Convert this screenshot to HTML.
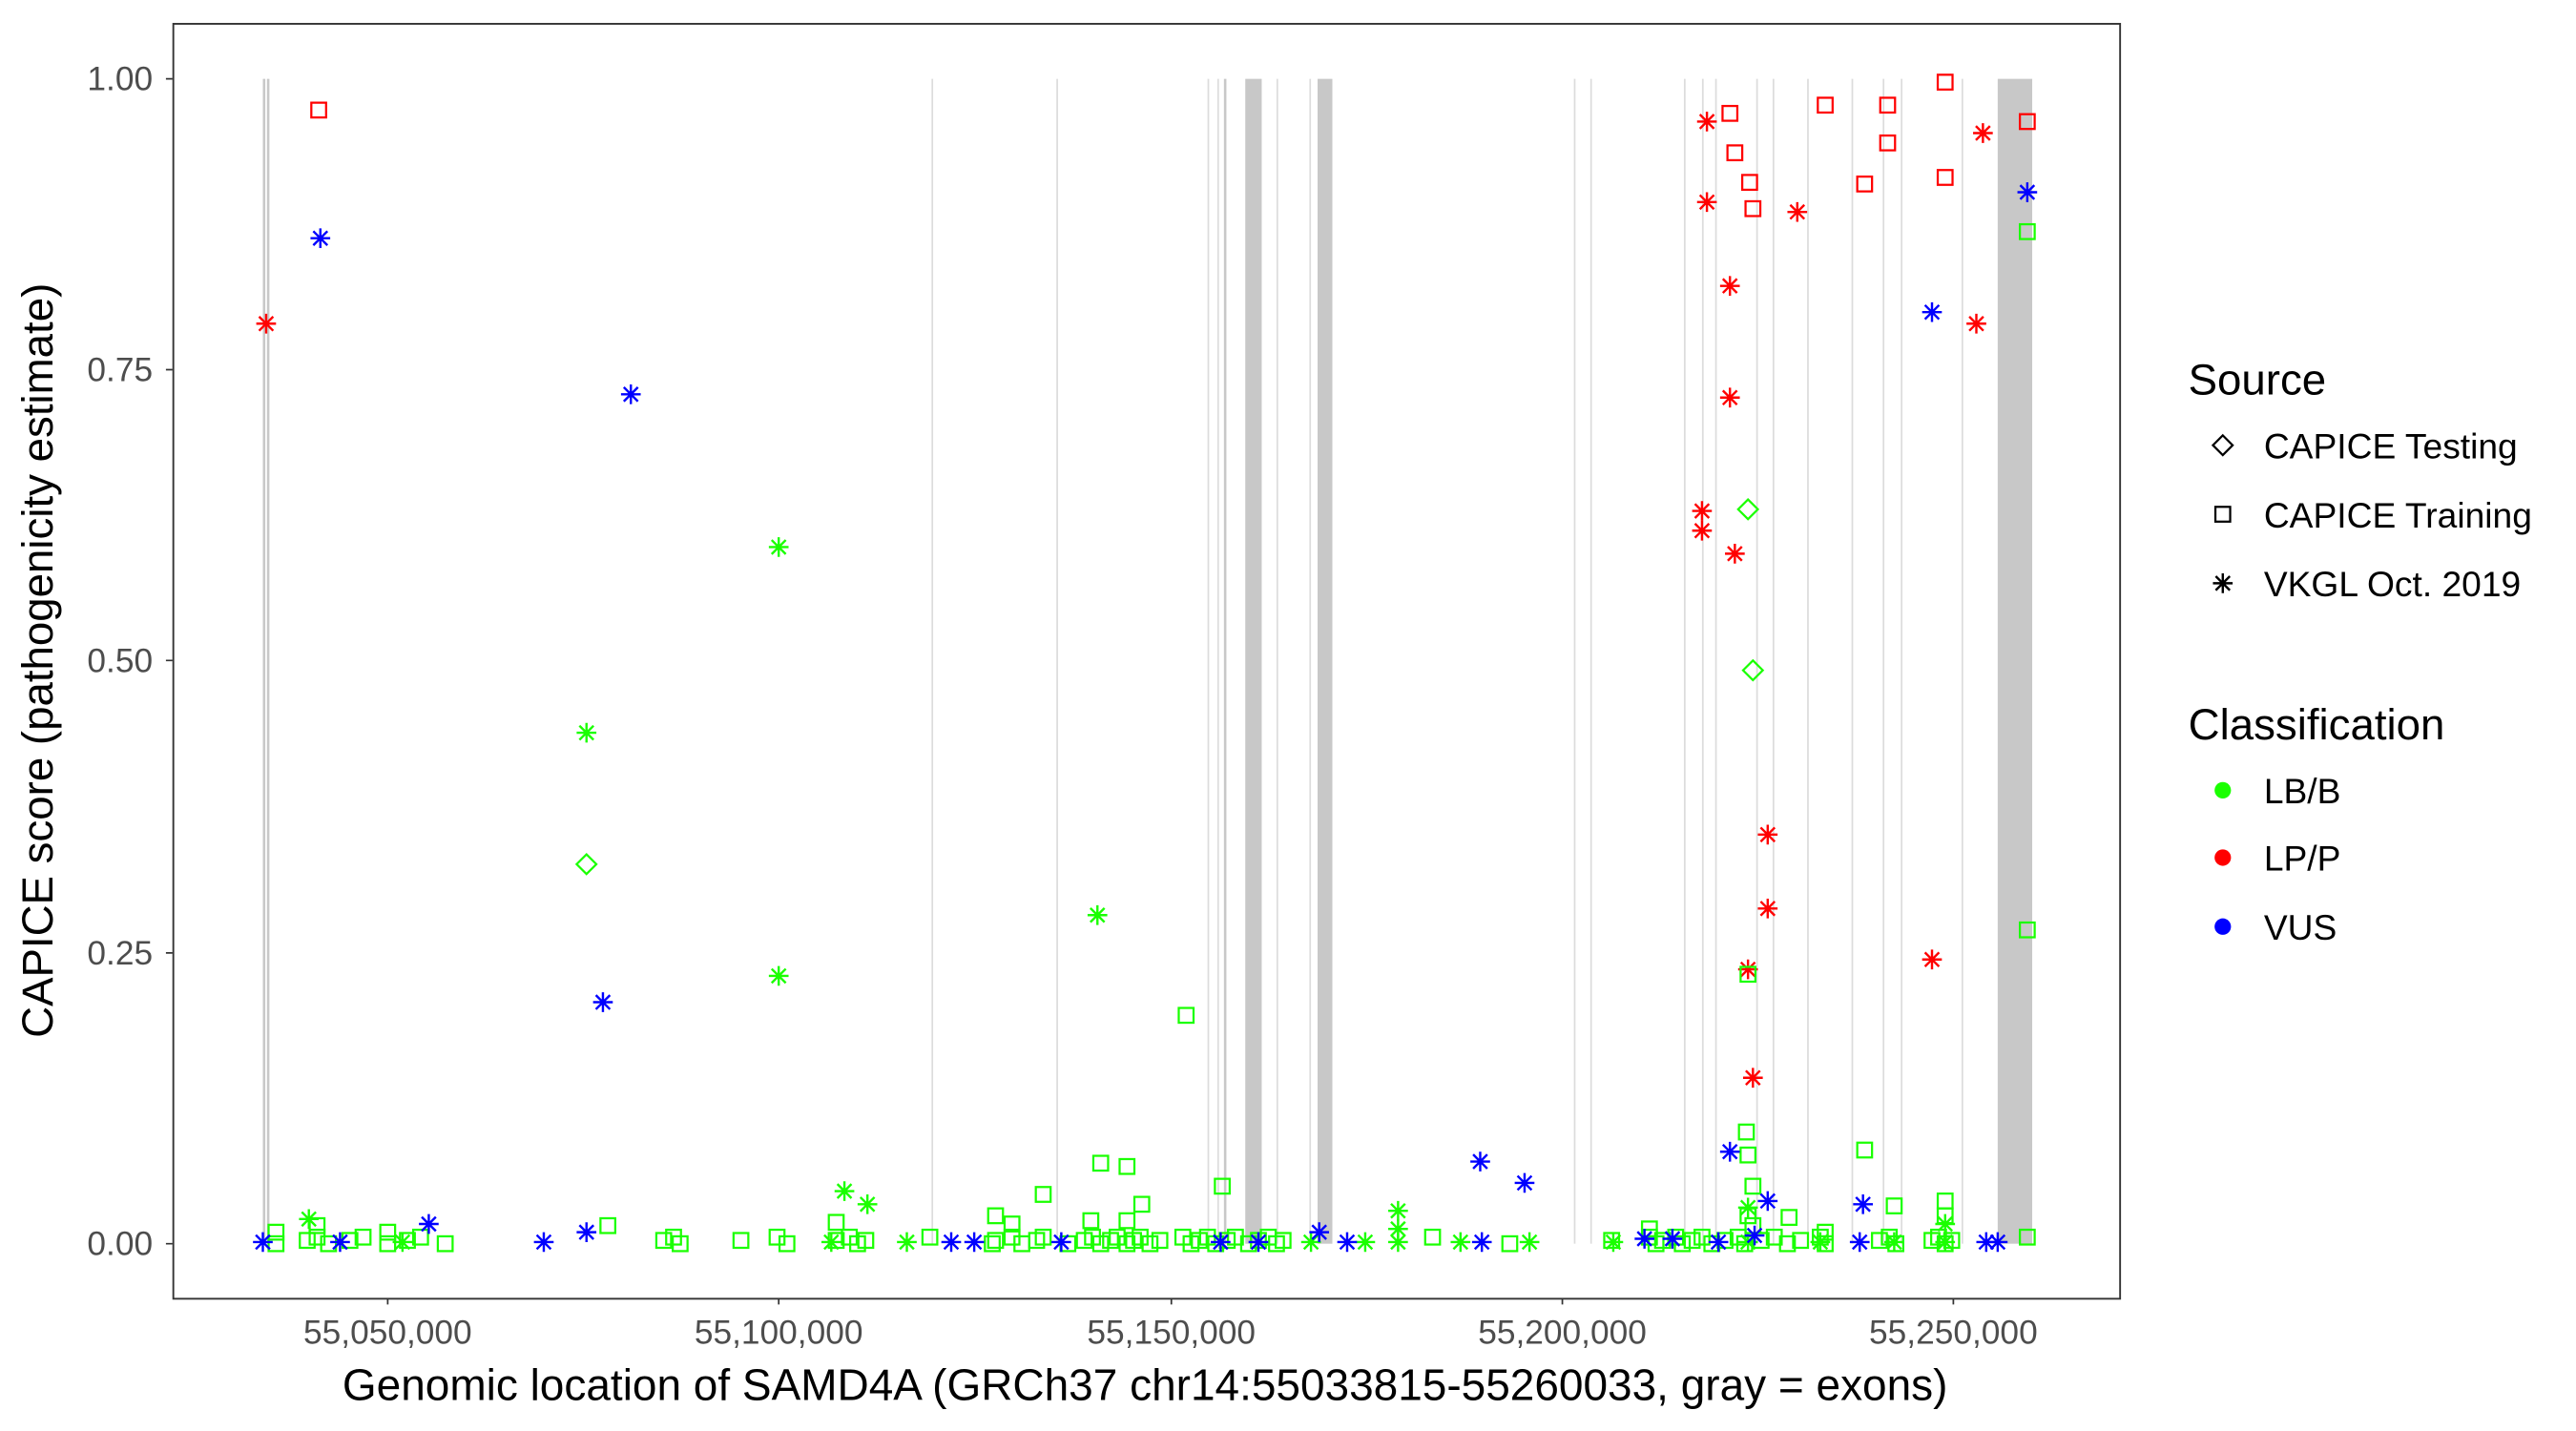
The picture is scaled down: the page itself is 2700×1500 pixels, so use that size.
<!DOCTYPE html>
<html><head><meta charset="utf-8"><style>html,body{margin:0;padding:0;background:#fff}svg{display:block}</style></head>
<body>
<svg id="s" width="2700" height="1500" viewBox="0 0 1568 871" preserveAspectRatio="none" xmlns="http://www.w3.org/2000/svg" font-family="Liberation Sans, sans-serif">
<defs>
<symbol id="sq" viewBox="-6 -6 12 12" overflow="visible"><rect x="-4.5" y="-4.5" width="9" height="9" fill="none" stroke="currentColor" stroke-width="1.3"/></symbol>
<symbol id="di" viewBox="-6 -6 12 12" overflow="visible"><path d="M0,-6 L6,0 L0,6 L-6,0Z" fill="none" stroke="currentColor" stroke-width="1.3"/></symbol>
<symbol id="st" viewBox="-6 -6 12 12" overflow="visible"><path d="M0,-6V6M-6,0H6M-4.3,-4.3L4.3,4.3M-4.3,4.3L4.3,-4.3" stroke="currentColor" stroke-width="1.4"/></symbol>
</defs>
<rect x="0" y="0" width="1568" height="871" fill="#fff"/>
<g id="ex" fill="#c8c8c8"></g>
<g id="pts"></g>
<rect x="105.5" y="14.5" width="1185" height="776" fill="none" stroke="#333" stroke-width="1.1"/>
<g stroke="#333" stroke-width="1">
<path d="M101,48H105M101,225H105M101,402H105M101,580H105M101,757H105"/>
<path d="M236,790V794M474,790V794M713,790V794M951,790V794M1189,790V794"/>
</g>
<g font-size="20.5" fill="#4d4d4d" text-anchor="end">
<text x="93" y="55">1.00</text><text x="93" y="232">0.75</text><text x="93" y="409">0.50</text><text x="93" y="587">0.25</text><text x="93" y="764">0.00</text>
</g>
<g font-size="20.5" fill="#4d4d4d" text-anchor="middle">
<text x="236" y="818">55,050,000</text><text x="474" y="818">55,100,000</text><text x="713" y="818">55,150,000</text><text x="951" y="818">55,200,000</text><text x="1189" y="818">55,250,000</text>
</g>
<text x="697" y="852" font-size="26.7" text-anchor="middle" fill="#000">Genomic location of SAMD4A (GRCh37 chr14:55033815-55260033, gray = exons)</text>
<text transform="translate(32,402) rotate(-90)" font-size="26.5" text-anchor="middle" fill="#000">CAPICE score (pathogenicity estimate)</text>
<text x="1332" y="240" font-size="26.5">Source</text>
<use href="#di" x="1347" y="265" width="12" height="12" color="#000"/>
<use href="#sq" x="1347" y="307" width="12" height="12" color="#000"/>
<use href="#st" x="1347" y="349" width="12" height="12" color="#000"/>
<g font-size="21.6"><text x="1378" y="279">CAPICE Testing</text><text x="1378" y="321">CAPICE Training</text><text x="1378" y="363">VKGL Oct. 2019</text></g>
<text x="1332" y="450" font-size="26.5">Classification</text>
<circle cx="1353" cy="481" r="5" fill="#1aff00"/><circle cx="1353" cy="522" r="5" fill="#ff0000"/><circle cx="1353" cy="564" r="5" fill="#0000ff"/>
<g font-size="21.6"><text x="1378" y="489">LB/B</text><text x="1378" y="530">LP/P</text><text x="1378" y="572">VUS</text></g>
</svg>
<script>
var NS="http://www.w3.org/2000/svg";
var ex=document.getElementById("ex");
[[160,1.5],[162.5,1.5],[567,1],[643,1],[735,1],[741,1],[745,1.5],[758,10],[777,1],[797,1],[802,9],[958,1],[968,1],[1025,1],[1036,1],[1044,1],[1069,1],[1079,1],[1100,1],[1127,1],[1146,1],[1157,1],[1194,1],[1216,21]].forEach(function(e){
var r=document.createElementNS(NS,"rect");r.setAttribute("x",e[0]);r.setAttribute("y",48);r.setAttribute("width",e[1]);r.setAttribute("height",709);
if(e[1]<=1)r.setAttribute("fill","#dcdcdc");ex.appendChild(r);});
var G="#1aff00",R="#ff0000",B="#0000ff";
var P=[];
function a(t,c,l){l.forEach(function(p){P.push([t,c,p[0],p[1]]);});}
a("sq",R,[[194,67],[1053,69],[1056,93],[1065,111],[1067,127],[1111,64],[1149,64],[1149,87],[1135,112],[1184,50],[1184,108],[1234,74]]);
a("st",R,[[162,197],[1039,74],[1039,123],[1094,129],[1207,81],[1203,197],[1053,174],[1053,242],[1036,311],[1036,323],[1056,337],[1076,508],[1076,553],[1064,590],[1067,656],[1176,584]]);
a("di",G,[[357,526],[1064,310],[1067,408]]);
a("sq",G,[[722,618],[1234,141],[1234,566],[1064,593],[1063,689],[1064,703],[1067,722],[1135,700],[1153,734],[744,722],[670,708],[686,710],[635,727],[370,746],[1089,741],[1184,731],[1184,740],[1064,740],[1067,746],[695,733],[606,740],[664,743],[686,743],[168,750],[193,746],[509,744],[236,750],[616,745],[1004,748],[1111,750]]);
a("st",G,[[474,333],[357,446],[474,594],[668,557],[514,725],[528,733],[851,737],[188,742],[851,748],[1184,745],[1064,735]]);
[168,187,193,200,213,221,236,248,256,271,404,410,414,451,473,479,509,517,522,527,566,604,606,616,622,631,635,650,660,665,670,676,680,686,690,694,700,706,720,725,730,735,740,747,752,760,766,772,777,781,872,919,981,1004,1008,1012,1020,1024,1030,1036,1042,1050,1058,1062,1072,1080,1088,1096,1108,1111,1144,1150,1154,1176,1180,1184,1188,1234].forEach(function(x,i){P.push(["sq",G,x,757-(i%3)*2]);});
[245,506,552,798,831,851,889,931,982,1108,1184,1064,1153].forEach(function(x){P.push(["st",G,x,756]);});
a("st",B,[[195,145],[384,240],[367,610],[1176,190],[1234,117],[901,707],[928,720],[1053,701],[1076,731],[1134,733],[261,745],[357,750],[331,756],[160,756],[207,756],[579,756],[593,756],[646,756],[743,756],[766,756],[803,750],[820,756],[902,756],[1001,754],[1018,754],[1046,756],[1068,752],[1132,756],[1209,756],[1216,756]]);
var g=document.getElementById("pts");
P.forEach(function(p){var u=document.createElementNS(NS,"use");u.setAttribute("href","#"+p[0]);u.setAttribute("x",p[2]-6);u.setAttribute("y",p[3]-6);u.setAttribute("width",12);u.setAttribute("height",12);u.setAttribute("color",p[1]);g.appendChild(u);});
</script>
</body></html>
